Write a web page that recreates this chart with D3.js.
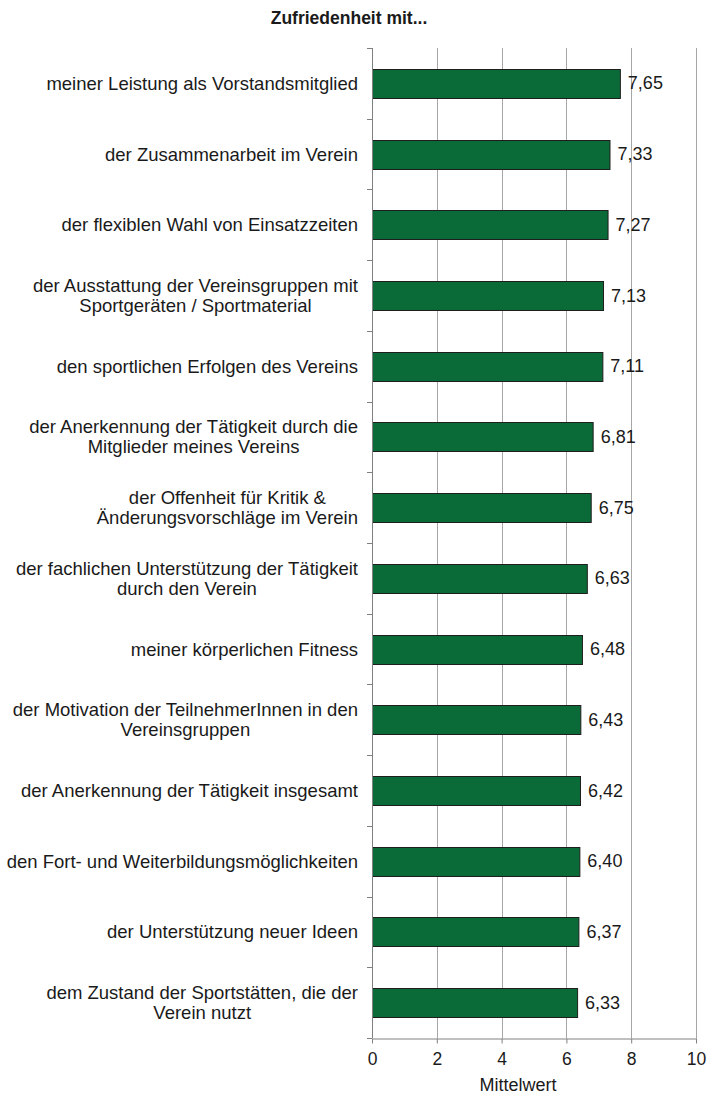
<!DOCTYPE html>
<html>
<head>
<meta charset="utf-8">
<script src="https://cdn.jsdelivr.net/npm/d3@7"></script>
<style>
  body { margin: 0; background: #fff; }
  svg text { font-family: "Liberation Sans", Arial, sans-serif; fill: #1a1a1a; }
</style>
</head>
<body>
<svg id="chart" width="710" height="1097"></svg>
<script>
// categories (line breaks as in the original labels)
let categories = [
    ["meiner Leistung als Vorstandsmitglied"],
    ["der Zusammenarbeit im Verein"],
    ["der flexiblen Wahl von Einsatzzeiten"],
    ["der Ausstattung der Vereinsgruppen mit", "Sportgeräten / Sportmaterial"],
    ["den sportlichen Erfolgen des Vereins"],
    ["der Anerkennung der Tätigkeit durch die", "Mitglieder meines Vereins"],
    ["der Offenheit für Kritik &", "Änderungsvorschläge im Verein"],
    ["der fachlichen Unterstützung der Tätigkeit", "durch den Verein"],
    ["meiner körperlichen Fitness"],
    ["der Motivation der TeilnehmerInnen in den", "Vereinsgruppen"],
    ["der Anerkennung der Tätigkeit insgesamt"],
    ["den Fort- und Weiterbildungsmöglichkeiten"],
    ["der Unterstützung neuer Ideen"],
    ["dem Zustand der Sportstätten, die der", "Verein nutzt"]
];
let values = [7.65, 7.33, 7.27, 7.13, 7.11, 6.81, 6.75, 6.63, 6.48, 6.43, 6.42, 6.40, 6.37, 6.33];
let xTicks = [0, 2, 4, 6, 8, 10];

let svg = d3.select("#chart");
let plotLeft = 372, plotRight = 696, plotTop = 48, plotBottom = 1038;

let xScale = d3.scaleLinear().domain([0, 10]).range([plotLeft, plotRight]);
let yScale = d3.scaleBand()
    .domain(d3.range(categories.length))
    .range([plotTop, plotBottom])
    .paddingInner(0.59)
    .paddingOuter(0.295);

// title
svg.append("text")
    .attr("x", 349)
    .attr("y", 24)
    .attr("text-anchor", "middle")
    .style("font-size", "17.5px")
    .style("font-weight", "bold")
    .attr("fill", "#000")
    .text("Zufriedenheit mit...");

// vertical gridlines
svg.append("g").selectAll("line")
    .data(xTicks.slice(1))
    .enter().append("line")
    .attr("x1", d => Math.round(xScale(d)) + 0.5)
    .attr("x2", d => Math.round(xScale(d)) + 0.5)
    .attr("y1", plotTop)
    .attr("y2", plotBottom)
    .attr("stroke", "#a6a6a6")
    .attr("stroke-width", 1);

// bars
svg.append("g").selectAll("rect")
    .data(values)
    .enter().append("rect")
    .attr("x", xScale(0) + 0.5)
    .attr("y", (d, i) => Math.round(yScale(i)) + 0.5)
    .attr("width", d => xScale(d) - xScale(0))
    .attr("height", yScale.bandwidth())
    .attr("fill", "#0b6b38")
    .attr("stroke", "#1e1e1e")
    .attr("stroke-width", 1);

// value labels
svg.append("g").selectAll("text")
    .data(values)
    .enter().append("text")
    .attr("x", d => xScale(d) + 8)
    .attr("y", (d, i) => yScale(i) + yScale.bandwidth() / 2 + 6)
    .style("font-size", "18px")
    .text(d => d.toFixed(2).replace(".", ","));

// x axis
let xAxis = d3.axisBottom(xScale).tickValues(xTicks).tickSize(5).tickSizeOuter(0);
let gx = svg.append("g")
    .attr("transform", "translate(0," + (plotBottom + 0.5) + ")")
    .call(xAxis);
gx.select(".domain").attr("stroke", "#808080");
gx.selectAll(".tick line").attr("stroke", "#808080");
gx.selectAll(".tick text")
    .attr("y", 14)
    .style("font-size", "17.5px")
    .style("font-family", "Liberation Sans, Arial, sans-serif")
    .attr("fill", "#1a1a1a");

svg.append("text")
    .attr("x", 518)
    .attr("y", 1091)
    .attr("text-anchor", "middle")
    .style("font-size", "18px")
    .text("Mittelwert");

// y axis with ticks between categories
let gy = svg.append("g");
gy.append("line")
    .attr("x1", plotLeft + 0.5).attr("x2", plotLeft + 0.5)
    .attr("y1", plotTop).attr("y2", plotBottom)
    .attr("stroke", "#808080");
let step = yScale.step();
gy.selectAll("line.tk")
    .data(d3.range(categories.length + 1))
    .enter().append("line")
    .attr("class", "tk")
    .attr("x1", plotLeft - 5).attr("x2", plotLeft)
    .attr("y1", i => Math.round(plotTop + i * step) + 0.5)
    .attr("y2", i => Math.round(plotTop + i * step) + 0.5)
    .attr("stroke", "#808080");

// category labels: block right-aligned, lines centred within block
let labelRight = 358, lineH = 20;
categories.forEach(function(lines, i) {
    let cy = yScale(i) + yScale.bandwidth() / 2;
    let g = svg.append("g");
    let texts = lines.map(function(l, j) {
        return g.append("text")
            .attr("y", cy + 6.5 + (j - (lines.length - 1) / 2) * lineH)
            .attr("text-anchor", "middle")
            .style("font-size", "18.5px")
            .text(l);
    });
    let w = d3.max(texts, t => t.node().getComputedTextLength());
    texts.forEach(t => t.attr("x", labelRight - w / 2));
});
</script>
</body>
</html>
